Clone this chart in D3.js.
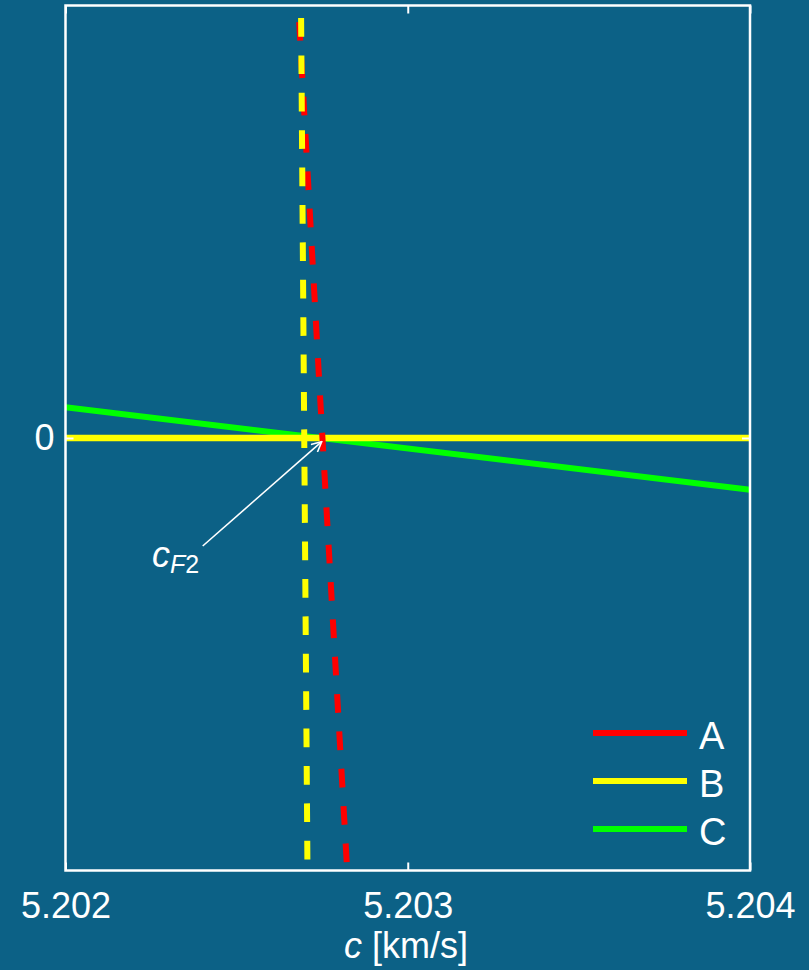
<!DOCTYPE html>
<html>
<head>
<meta charset="utf-8">
<script src="https://cdn.jsdelivr.net/npm/d3@7"></script>
<style>
  html, body { margin: 0; padding: 0; background: #0c6186; }
  svg { display: block; }
  text { font-family: "Liberation Sans", Arial, Helvetica, sans-serif; fill: #ffffff; }
</style>
</head>
<body>
<svg id="chart" width="809" height="970"></svg>
<script>
// Axis ticks
const xTicks = [5.202, 5.203, 5.204];
const xTickLabels = ["5.202", "5.203", "5.204"];
const yTicks = [0];
const yTickLabels = ["0"];

// Series A (red, dashed): [c, value]
const seriesA = [[5.2026828, 0.9619], [5.2027451, 0.0781], [5.2028219, -0.9838]];
// Series B (yellow): dashed near-vertical branch and the solid zero line
const seriesBDashed = [[5.2026884, 0.9711], [5.2027068, -0.9769]];
const seriesBZero = [[5.202, 0], [5.204, 0]];
// Series C (green, solid)
const seriesC = [[5.202, 0.0711], [5.204, -0.1197]];

// Legend entries
const legendNames = ["A", "B", "C"];
const legendColors = ["#ff0000", "#ffff00", "#00ff00"];

// Annotation: arrow from label to the crossing point c_F2
const arrowFrom = [5.2024009, -0.2497];
const arrowTo = [5.2027486, -0.0086];
const labelAt = [5.2022527, -0.298];

const svg = d3.select("#chart");
const plotL = 65.5, plotR = 750, plotT = 5.5, plotB = 870.5;

const x = d3.scaleLinear().domain([5.202, 5.204]).range([plotL, plotR]);
const y = d3.scaleLinear().domain([-1, 1]).range([plotB, plotT]);

const line = d3.line().x(d => x(d[0])).y(d => y(d[1]));

// Data lines
svg.append("path").datum(seriesC).attr("d", line)
  .attr("fill", "none").attr("stroke", "#00ff00").attr("stroke-width", 6);
svg.append("path").datum(seriesBZero).attr("d", line)
  .attr("fill", "none").attr("stroke", "#ffff00").attr("stroke-width", 6.5);
svg.append("path").datum(seriesA).attr("d", line)
  .attr("fill", "none").attr("stroke", "#ff0000").attr("stroke-width", 6)
  .attr("stroke-dasharray", "18.7,18.7");
svg.append("path").datum(seriesBDashed).attr("d", line)
  .attr("fill", "none").attr("stroke", "#ffff00").attr("stroke-width", 6)
  .attr("stroke-dasharray", "18.7,18.7");

// Axes (inward ticks, white)
function styleAxis(g) {
  g.select(".domain").remove();
  g.selectAll(".tick line").attr("stroke", "#ffffff").attr("stroke-width", 2);
  g.selectAll(".tick text").attr("fill", "#ffffff").style("font-size", "36px")
    .style("font-family", "'Liberation Sans', Arial, sans-serif");
}

const gx = svg.append("g").attr("transform", `translate(0,${plotB})`)
  .call(d3.axisBottom(x).tickValues(xTicks).tickFormat((d, i) => xTickLabels[i])
    .tickSizeInner(-8).tickSizeOuter(0).tickPadding(22));
styleAxis(gx);

const gxTop = svg.append("g").attr("transform", `translate(0,${plotT})`)
  .call(d3.axisTop(x).tickValues(xTicks).tickFormat("").tickSizeInner(-8).tickSizeOuter(0));
styleAxis(gxTop);

const gy = svg.append("g").attr("transform", `translate(${plotL},0)`)
  .call(d3.axisLeft(y).tickValues(yTicks).tickFormat((d, i) => yTickLabels[i])
    .tickSizeInner(-8).tickSizeOuter(0).tickPadding(11));
styleAxis(gy);

const gyR = svg.append("g").attr("transform", `translate(${plotR},0)`)
  .call(d3.axisRight(y).tickValues(yTicks).tickFormat("").tickSizeInner(-8).tickSizeOuter(0));
styleAxis(gyR);

// Frame
svg.append("rect").attr("x", plotL).attr("y", plotT)
  .attr("width", plotR - plotL).attr("height", plotB - plotT)
  .attr("fill", "none").attr("stroke", "#ffffff").attr("stroke-width", 2.5);

// Axis title
const xt = svg.append("text").attr("x", 406).attr("y", 958)
  .attr("text-anchor", "middle").style("font-size", "36px");
xt.append("tspan").style("font-style", "italic").text("c");
xt.append("tspan").text(" [km/s]");

// Annotation arrow
svg.append("defs").append("marker")
  .attr("id", "arrowhead").attr("viewBox", "0 0 12 12")
  .attr("refX", 11).attr("refY", 6).attr("markerWidth", 12).attr("markerHeight", 12)
  .attr("markerUnits", "userSpaceOnUse").attr("orient", "auto")
  .append("path").attr("d", "M1,1 L11,6 L1,11")
  .attr("fill", "none").attr("stroke", "#ffffff").attr("stroke-width", 1.6);

svg.append("line")
  .attr("x1", x(arrowFrom[0])).attr("y1", y(arrowFrom[1]))
  .attr("x2", x(arrowTo[0])).attr("y2", y(arrowTo[1]))
  .attr("stroke", "#ffffff").attr("stroke-width", 1.6)
  .attr("marker-end", "url(#arrowhead)");

const lab = svg.append("text").attr("x", x(labelAt[0])).attr("y", y(labelAt[1]))
  .style("font-size", "36px");
lab.append("tspan").style("font-style", "italic").text("c");
lab.append("tspan").attr("dy", 6).style("font-size", "25px").style("font-style", "italic").text("F");
lab.append("tspan").style("font-size", "25px").text("2");

// Legend
const legend = svg.append("g");
const legendY = d3.scalePoint().domain(legendNames).range([733, 829]);
legendNames.forEach((name, i) => {
  const ly = legendY(name);
  legend.append("line").attr("x1", 593).attr("x2", 687).attr("y1", ly).attr("y2", ly)
    .attr("stroke", legendColors[i]).attr("stroke-width", 6);
  legend.append("text").attr("x", 699).attr("y", ly + 16)
    .style("font-size", "38px").text(name);
});
</script>
</body>
</html>
